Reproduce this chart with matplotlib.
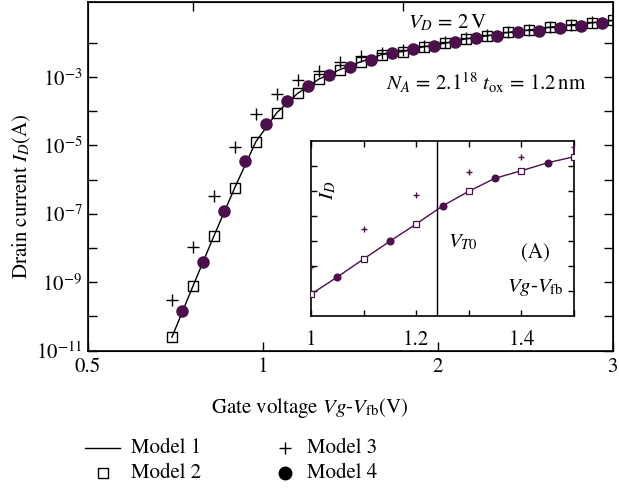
import matplotlib
matplotlib.use("Agg")
import matplotlib.pyplot as plt
import numpy as np
from matplotlib.lines import Line2D

plt.rcParams['font.family'] = ['STIXGeneral', 'DejaVu Serif']
plt.rcParams['mathtext.fontset'] = 'stix'

PURPLE = '#4B0F4B'
FS = 15

# ---------------- main plot data (x in axis position units, log10 of current) ----
xtick_pos = [0, 1, 2, 3]
xtick_labels = ['0.5', '1', '2', '3']

m2_x = [0.48, 0.60, 0.72, 0.84, 0.96, 1.08, 1.20, 1.32, 1.44, 1.56, 1.68,
        1.80, 1.92, 2.04, 2.16, 2.28, 2.40, 2.52, 2.64, 2.76, 2.88, 3.00]
m2_logy = [-10.61, -9.12, -7.65, -6.23, -4.89, -4.04, -3.47, -3.06, -2.78, -2.55, -2.34,
           -2.25, -2.11, -2.01, -1.88, -1.79, -1.69, -1.62, -1.54, -1.47, -1.41, -1.34]

m1_x = m2_x
m1_logy = m2_logy

m3_x = m2_x
m3_logy = [-9.53, -7.98, -6.47, -5.04, -4.09, -3.48, -3.09, -2.81, -2.57, -2.39, -2.29,
           -2.20, -2.08, -1.98, -1.86, -1.77, -1.68, -1.61, -1.53, -1.46, -1.40, -1.33]

m4_x = [0.54, 0.66, 0.78, 0.90, 1.02, 1.14, 1.26, 1.38, 1.50, 1.62, 1.74,
        1.86, 1.98, 2.10, 2.22, 2.34, 2.46, 2.58, 2.70, 2.82, 2.94]
m4_logy = [-9.83, -8.41, -6.93, -5.46, -4.36, -3.70, -3.27, -2.94, -2.70, -2.50, -2.30,
           -2.18, -2.08, -1.97, -1.86, -1.79, -1.69, -1.64, -1.57, -1.49, -1.41]

# ---------------- inset data ----------------
in_m2_x = [1.0, 1.1, 1.2, 1.3, 1.4, 1.5]
in_m2_y = [0.87, 2.28, 3.68, 4.99, 5.81, 6.37]
in_m4_x = [1.05, 1.15, 1.25, 1.35, 1.45]
in_m4_y = [1.56, 2.99, 4.40, 5.51, 6.13]
in_m3_x = [1.0, 1.1, 1.2, 1.3, 1.4, 1.5]
in_m3_y = [1.95, 3.47, 4.84, 5.76, 6.37, 6.75]
in_m1_x = [1.0, 1.05, 1.1, 1.15, 1.2, 1.25, 1.3, 1.35, 1.4, 1.45, 1.5]
in_m1_y = [0.87, 1.56, 2.28, 2.99, 3.68, 4.40, 4.99, 5.51, 5.81, 6.13, 6.37]
vt0 = 1.24

W, H = 619, 490
fig = plt.figure(figsize=(W / 100, H / 100), dpi=100)

def fx(px):
    return px / W

def fy(py):
    return 1 - py / H

ax = fig.add_axes([fx(88), fy(350.5), fx(612.5) - fx(88), fy(2) - fy(350.5)])
ax.set_yscale('log')

tp = lambda v: [10.0 ** a for a in v]
ax.plot(m1_x, tp(m1_logy), '-', color='black', lw=1.0, zorder=2)
ax.plot(m2_x, tp(m2_logy), 's', mfc='none', mec='black', ms=6.5, mew=1.0, zorder=3)
ax.plot(m3_x, tp(m3_logy), '+', color='black', ms=8, mew=1.0, zorder=4)
ax.plot(m4_x, tp(m4_logy), 'o', color=PURPLE, mec=PURPLE, ms=8, zorder=5)

ax.set_xlim(0, 3)
ax.set_ylim(1e-11, 10 ** -0.8)
ax.set_xticks(xtick_pos)
ax.set_xticklabels(xtick_labels)
ax.xaxis.set_minor_locator(matplotlib.ticker.NullLocator())
ax.set_yticks([10.0 ** k for k in range(-11, -1)])
ax.set_yticklabels([r'$10^{%d}$' % k if (k % 2) else '' for k in range(-11, -1)])
ax.yaxis.set_minor_locator(matplotlib.ticker.NullLocator())
ax.tick_params(axis='both', direction='in', length=6.5, width=1.0, labelsize=FS)
ax.tick_params(axis='x', pad=5)
ax.tick_params(axis='y', pad=4, right=True)
for s in ax.spines.values():
    s.set_linewidth(1.2)

axt = ax.twiny()
axt.set_xlim(0, 3)
axt.set_xticks([0.6, 1.8])
axt.set_xticklabels([])
axt.tick_params(axis='x', direction='in', length=6.5, width=1.0)

# ---------------- inset ----------------
ai = fig.add_axes([fx(311), fy(316), fx(574) - fx(311), fy(141) - fy(316)])
ai.plot(in_m1_x, in_m1_y, '-', color=PURPLE, lw=1.0, zorder=2)
ai.plot(in_m2_x, in_m2_y, 's', mfc='white', mec=PURPLE, ms=4, mew=0.9, zorder=3)
ai.plot(in_m4_x, in_m4_y, 'o', color=PURPLE, ms=4.8, zorder=3)
ai.plot(in_m3_x, in_m3_y, '+', color=PURPLE, ms=5, mew=1.0, zorder=3)
ai.axvline(vt0, color='black', lw=1.0)
ai.set_xlim(1.0, 1.5)
ai.set_ylim(0, 7)
ai.set_xticks([1.0, 1.2, 1.4])
ai.set_xticklabels(['1', '1.2', '1.4'])
ai.set_xticks([1.1, 1.3, 1.5], minor=True)
ai.set_yticks([1, 2, 3, 4, 5, 6])
ai.set_yticklabels([])
ai.tick_params(which='both', direction='in', length=4, width=1.0, top=True, right=True,
               labelsize=FS)
ai.tick_params(axis='x', which='both', pad=10)
for s in ai.spines.values():
    s.set_linewidth(1.2)

# ---------------- texts ----------------
fig.text(fx(448), fy(23), r'$V_D\,=\,2\,\mathrm{V}$', fontsize=FS, ha='center', va='center')
fig.text(fx(486), fy(83), r'$N_A\,=\,2.1^{18}\ t_{\mathrm{ox}}\,=\,1.2\,\mathrm{nm}$',
         fontsize=FS, ha='center', va='center')
fig.text(fx(328), fy(190), r'$I_D$', fontsize=FS, ha='center', va='center', rotation=90)
fig.text(fx(463), fy(242), r'$V_{T0}$', fontsize=FS, ha='center', va='center')
fig.text(fx(535), fy(252), '(A)', fontsize=FS, ha='center', va='center')
fig.text(fx(535), fy(287), r'$Vg$-$V_{\mathrm{fb}}$', fontsize=FS, ha='center', va='center')
fig.text(fx(310), fy(408), r'Gate voltage $Vg$-$V_{\mathrm{fb}}$(V)', fontsize=FS,
         ha='center', va='center')
fig.text(fx(22), fy(196), r'Drain current $I_D$(A)', fontsize=FS, ha='center',
         va='center', rotation=90)

# ---------------- legend ----------------
fig.add_artist(Line2D([fx(85), fx(120)], [fy(448), fy(448)], color='black', lw=1.0))
fig.add_artist(Line2D([fx(103)], [fy(473)], marker='s', mfc='none', mec='black', ms=6.5,
                      mew=1.0, ls='none'))
fig.add_artist(Line2D([fx(285)], [fy(448)], marker='+', color='black', ms=8, mew=1.0,
                      ls='none'))
fig.add_artist(Line2D([fx(285)], [fy(473)], marker='o', color='black', ms=9, ls='none'))
fig.text(fx(131), fy(448), 'Model 1', fontsize=FS, ha='left', va='center')
fig.text(fx(131), fy(473), 'Model 2', fontsize=FS, ha='left', va='center')
fig.text(fx(307), fy(448), 'Model 3', fontsize=FS, ha='left', va='center')
fig.text(fx(307), fy(473), 'Model 4', fontsize=FS, ha='left', va='center')

fig.savefig('out.png', dpi=100)
